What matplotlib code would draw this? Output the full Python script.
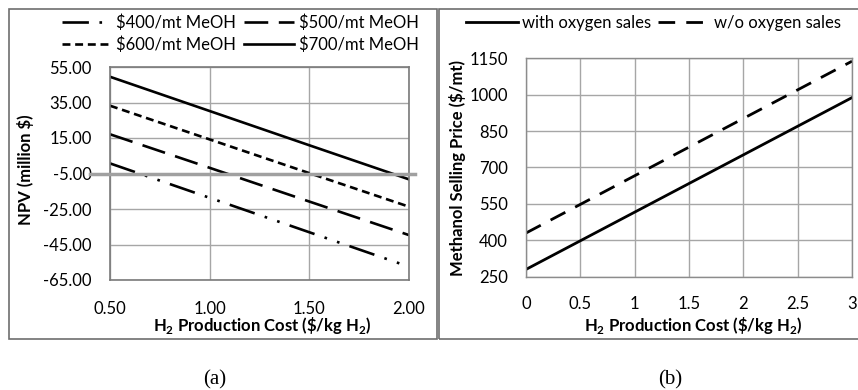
import numpy as np
import matplotlib
matplotlib.use("Agg")
import matplotlib.pyplot as plt
from matplotlib.patches import Rectangle

plt.rcParams['font.family'] = ['Lato', 'DejaVu Sans']
plt.rcParams['mathtext.fontset'] = 'custom'
plt.rcParams['mathtext.rm'] = 'Lato'
plt.rcParams['mathtext.bf'] = 'Lato:bold'

# (a) NPV vs H2 production cost
h2_cost_a = [0.5, 1.0, 1.5, 2.0]
npv_400 = [0.7, -18.7, -38.1, -57.5]
npv_500 = [17.1, -1.8, -20.8, -39.7]
npv_600 = [33.2, 14.2, -4.8, -23.7]
npv_700 = [49.5, 30.2, 10.9, -8.3]
npv_ticks = [55, 35, 15, -5, -25, -45, -65]
cost_ticks_a = [0.5, 1.0, 1.5, 2.0]
npv_zero_line = -5

# (b) methanol selling price vs H2 production cost
h2_cost_b = [0, 0.5, 1, 1.5, 2, 2.5, 3]
price_with_o2 = [280, 398, 516, 634, 752, 870, 988]
price_without_o2 = [430, 548, 666, 784, 902, 1020, 1138]
price_ticks = [250, 400, 550, 700, 850, 1000, 1150]
cost_ticks_b = [0, 0.5, 1, 1.5, 2, 2.5, 3]

W, H = 858, 390
fig = plt.figure(figsize=(W / 100, H / 100), dpi=100)


def box(x0, y0, x1, y1):
    # pixel box (top-left origin) -> figure fraction rect
    return [x0 / W, 1 - y1 / H, (x1 - x0) / W, (y1 - y0) / H]


grid_col = '#a6a6a6'
fs = 12
fs_lab = 12

# outer frames
for x0, x1 in [(9, 437), (439, 880)]:
    fig.patches.append(Rectangle((x0 / W, 1 - 339 / H), (x1 - x0) / W, 330 / H,
                                 transform=fig.transFigure, fill=False,
                                 edgecolor='#6e6e6e', lw=1.2))

# ---- panel (a)
ax1 = fig.add_axes(box(110, 67, 409, 280))
ax1.plot(h2_cost_a, npv_400, color='black', lw=1.9, linestyle=(0, (10, 4, 1, 4, 1, 4)),
         label='$400/mt MeOH')
ax1.plot(h2_cost_a, npv_600, color='black', lw=1.9, linestyle=(0, (3, 1.8)),
         label='$600/mt MeOH')
ax1.plot(h2_cost_a, npv_500, color='black', lw=1.9, linestyle=(0, (9, 4)),
         label='$500/mt MeOH')
ax1.plot(h2_cost_a, npv_700, color='black', lw=1.9, label='$700/mt MeOH')
ax1.axhline(npv_zero_line, xmin=-0.067, xmax=1.02, color='#a0a0a0', lw=2.5,
            clip_on=False, zorder=5)
ax1.set_xlim(0.5, 2.0)
ax1.set_ylim(-65, 55)
ax1.set_xticks(cost_ticks_a)
ax1.set_xticklabels(['%.2f' % v for v in cost_ticks_a])
ax1.set_yticks(npv_ticks)
ax1.set_yticklabels(['%.2f' % v for v in npv_ticks])
ax1.tick_params(axis='x', length=0, pad=15, labelsize=fs)
ax1.tick_params(axis='y', length=0, pad=13, labelsize=fs)
ax1.grid(True, color=grid_col, lw=1)
ax1.set_axisbelow(True)
for s in ax1.spines.values():
    s.set_color('#7a7a7a')
    s.set_linewidth(1.2)
ax1.legend(ncol=2, loc='upper left', bbox_to_anchor=(62 / W, 1 - 14 / H),
           bbox_transform=fig.transFigure, frameon=False, fontsize=fs,
           handlelength=3.0, handletextpad=0.25, columnspacing=0.5,
           labelspacing=0.35, borderpad=0, borderaxespad=0)

fig.text(25 / W, 1 - 170 / H, 'NPV (million $)', rotation=90, fontsize=fs_lab,
         fontweight='bold', ha='center', va='center')
fig.text(262 / W, 1 - 326 / H, r'H$_\mathbf{2}$ Production Cost (\$/kg H$_\mathbf{2}$)',
         fontsize=fs_lab, fontweight='bold', ha='center', va='center')

# ---- panel (b)
ax2 = fig.add_axes(box(526, 58.3, 852, 276.7))
ax2.plot(h2_cost_b, price_with_o2, color='black', lw=2.0, label='with oxygen sales')
ax2.plot(h2_cost_b, price_without_o2, color='black', lw=2.0, linestyle=(0, (6, 4)),
         label='w/o oxygen sales')
ax2.set_xlim(0, 3)
ax2.set_ylim(250, 1150)
ax2.set_xticks(cost_ticks_b)
ax2.set_xticklabels(['%g' % v for v in cost_ticks_b])
ax2.set_yticks(price_ticks)
ax2.tick_params(axis='x', length=0, pad=14, labelsize=fs)
ax2.tick_params(axis='y', length=0, pad=13, labelsize=fs)
ax2.grid(True, color=grid_col, lw=1)
ax2.set_axisbelow(True)
for s in ax2.spines.values():
    s.set_color('#8c8c8c')
    s.set_linewidth(1.0)
ax2.legend(ncol=2, loc='upper left', bbox_to_anchor=(466 / W, 1 - 15 / H),
           bbox_transform=fig.transFigure, frameon=False, fontsize=fs,
           handlelength=3.1, handletextpad=0.25, columnspacing=0.45,
           borderpad=0, borderaxespad=0)

fig.text(457 / W, 1 - 168 / H, 'Methanol Selling Price ($/mt)', rotation=90,
         fontsize=fs_lab, fontweight='bold', ha='center', va='center')
fig.text(693 / W, 1 - 326 / H, r'H$_\mathbf{2}$ Production Cost (\$/kg H$_\mathbf{2}$)',
         fontsize=fs_lab, fontweight='bold', ha='center', va='center')

# captions
fig.text(215 / W, 1 - 380 / H, '(a)', fontsize=15, family='Liberation Serif',
         ha='center', va='center')
fig.text(670 / W, 1 - 380 / H, '(b)', fontsize=15, family='Liberation Serif',
         ha='center', va='center')

fig.savefig('out.png', dpi=100)
